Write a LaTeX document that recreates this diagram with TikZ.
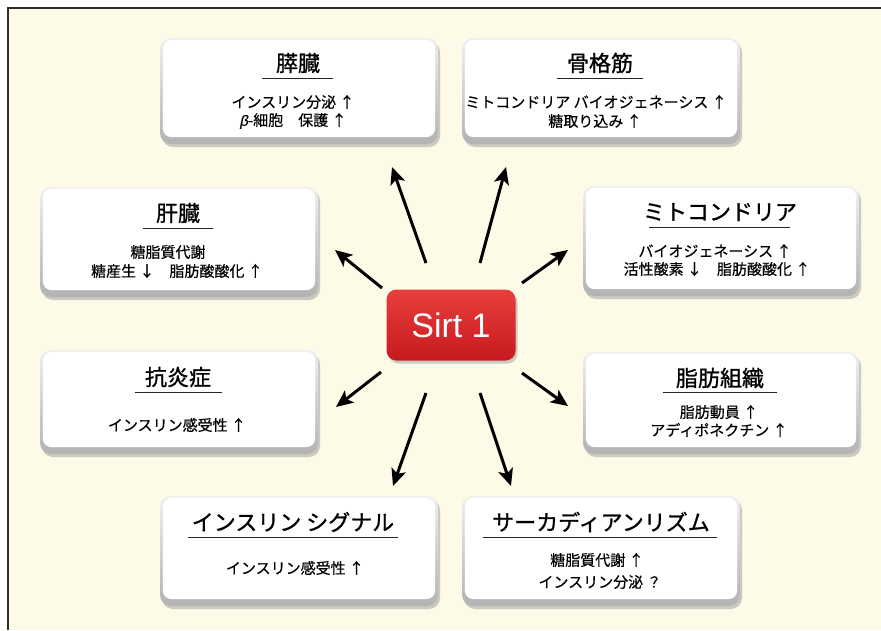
\documentclass[tikz,border=0pt]{standalone}
\usepackage{fontspec}
\setmainfont{Noto Sans CJK JP}
\newfontfamily\ttlfont[FakeBold=1.0]{Noto Sans CJK JP}
\newfontfamily\bodyfont[FakeBold=0.4]{Noto Sans CJK JP}
\newfontfamily\sirtfont{Liberation Sans}
\newfontfamily\slfont[FakeSlant=0.2,FakeBold=0.4]{Liberation Sans}
\usetikzlibrary{shadows,arrows.meta}
\definecolor{cream}{RGB}{254,250,232}
\definecolor{sirtred}{RGB}{214,28,34}
\definecolor{framegray}{RGB}{45,45,45}
\begin{document}
\begin{tikzpicture}[x=1pt,y=-1pt,
 card/.style={rounded corners=11pt, top color=gray!12, bottom color=gray!60, draw=none, inner sep=0pt,
   drop shadow={shadow xshift=2pt,shadow yshift=-3pt,fill=black!40}},
 face/.style={fill=white, rounded corners=9pt},
 ttl/.style={font=\ttlfont\fontsize{22}{25}\selectfont, inner sep=0pt, text=black},
 txt/.style={font=\bodyfont\fontsize{15}{18}\selectfont, inner sep=0pt, text=black},
 uline/.style={line width=0.8pt, black!85},
 sirtbox/.style={rounded corners=10pt, top color={rgb,255:red,232;green,62;blue,60}, middle color=sirtred, bottom color=sirtred!93!black,
   draw=none, text=white, inner sep=0pt, drop shadow={shadow xshift=2pt,shadow yshift=-3pt,fill=black!40}},
 arr/.style={line width=3pt, -{Stealth[length=17pt,width=15pt,inset=4pt]}},
]
\useasboundingbox (0,0) rectangle (881,630);
\fill[white] (0,0) rectangle (881,630);
\fill[cream] (8,8) rectangle (881,630);
\draw[framegray, line width=2.5pt] (8,630) -- (8,8) -- (881,8);

% ---------- cards ----------
% pancreas
\node[card, minimum width=278pt, minimum height=106pt] (pan) at (299,91) {};
\fill[face] ([xshift=3pt,yshift=-2pt]pan.north west) rectangle ([xshift=-3pt,yshift=7pt]pan.south east);
\node[ttl] (panT) at (298,63) {膵臓};
\draw[uline] (262,78) -- (333,78);
\node[txt] (pan1) at (293,102) {インスリン分泌 ↑};
\node[txt] (pan2) at (293,121) {{\slfont β}-細胞　保護 ↑};

% muscle
\node[card, minimum width=278pt, minimum height=106pt] (mus) at (601,91) {};
\fill[face] ([xshift=3pt,yshift=-2pt]mus.north west) rectangle ([xshift=-3pt,yshift=7pt]mus.south east);
\node[ttl] (musT) at (600,63) {骨格筋};
\draw[uline] (557,78) -- (643,78);
\node[txt] (mus1) at (596,102) {ミトコンドリア バイオジェネーシス ↑};
\node[txt] (mus2) at (595,121) {糖取り込み ↑};

% liver
\node[card, minimum width=278pt, minimum height=110pt] (liv) at (179,242) {};
\fill[face] ([xshift=3pt,yshift=-2pt]liv.north west) rectangle ([xshift=-3pt,yshift=7pt]liv.south east);
\node[ttl] (livT) at (178,213) {肝臓};
\draw[uline] (143,228) -- (213,228);
\node[txt] (liv1) at (168,252) {糖脂質代謝};
\node[txt] (liv2) at (177,271) {糖産生 ↓　脂肪酸酸化 ↑};

% mitochondria
\node[card, minimum width=276pt, minimum height=110pt] (mit) at (721,241) {};
\fill[face] ([xshift=3pt,yshift=-2pt]mit.north west) rectangle ([xshift=-3pt,yshift=7pt]mit.south east);
\node[ttl] (mitT) at (720,212) {ミトコンドリア};
\draw[uline] (649,227) -- (790,227);
\node[txt] (mit1) at (715,251) {バイオジェネーシス ↑};
\node[txt] (mit2) at (717,269) {活性酸素 ↓　脂肪酸酸化 ↑};

% anti-inflammation
\node[card, minimum width=278pt, minimum height=104pt] (inf) at (179,402) {};
\fill[face] ([xshift=3pt,yshift=-2pt]inf.north west) rectangle ([xshift=-3pt,yshift=7pt]inf.south east);
\node[ttl] (infT) at (178,377) {抗炎症};
\draw[uline] (135,392) -- (222,392);
\node[txt] (inf1) at (177,425) {インスリン感受性 ↑};

% adipose
\node[card, minimum width=276pt, minimum height=102pt] (adi) at (721,403) {};
\fill[face] ([xshift=3pt,yshift=-2pt]adi.north west) rectangle ([xshift=-3pt,yshift=7pt]adi.south east);
\node[ttl] (adiT) at (720,378) {脂肪組織};
\draw[uline] (663,392) -- (777,392);
\node[txt] (adi1) at (719,412) {脂肪動員 ↑};
\node[txt] (adi2) at (719,430) {アディポネクチン ↑};

% insulin signal
\node[card, minimum width=278pt, minimum height=110pt] (ins) at (299,551) {};
\fill[face] ([xshift=3pt,yshift=-2pt]ins.north west) rectangle ([xshift=-3pt,yshift=7pt]ins.south east);
\node[ttl] (insT) at (293,522) {インスリン シグナル};
\draw[uline] (188,537) -- (398,537);
\node[txt] (ins1) at (295,568) {インスリン感受性 ↑};

% circadian
\node[card, minimum width=278pt, minimum height=110pt] (cir) at (601,551) {};
\fill[face] ([xshift=3pt,yshift=-2pt]cir.north west) rectangle ([xshift=-3pt,yshift=7pt]cir.south east);
\node[ttl] (cirT) at (601,522) {サーカディアンリズム};
\draw[uline] (483,537) -- (717,537);
\node[txt] (cir1) at (597,560) {糖脂質代謝 ↑};
\node[txt] (cir2) at (600,582) {インスリン分泌 ？};

% ---------- Sirt1 ----------
\node[sirtbox, minimum width=129pt, minimum height=71pt] (sirt) at (451,325) {\sirtfont\fontsize{34}{38}\selectfont Sirt 1};

% ---------- arrows ----------
\coordinate (t1) at (426,263); \coordinate (h1) at (392,167);
\coordinate (t2) at (480,263); \coordinate (h2) at (506,167);
\coordinate (t3) at (382,288); \coordinate (h3) at (335,250);
\coordinate (t4) at (522,283); \coordinate (h4) at (568,250);
\coordinate (t5) at (381,372); \coordinate (h5) at (336,407);
\coordinate (t6) at (522,373); \coordinate (h6) at (568,406);
\coordinate (t7) at (426,393); \coordinate (h7) at (393,486);
\coordinate (t8) at (480,393); \coordinate (h8) at (511,486);
\foreach \i in {1,...,8} { \draw[arr] (t\i) -- (h\i); }
\end{tikzpicture}
\end{document}
